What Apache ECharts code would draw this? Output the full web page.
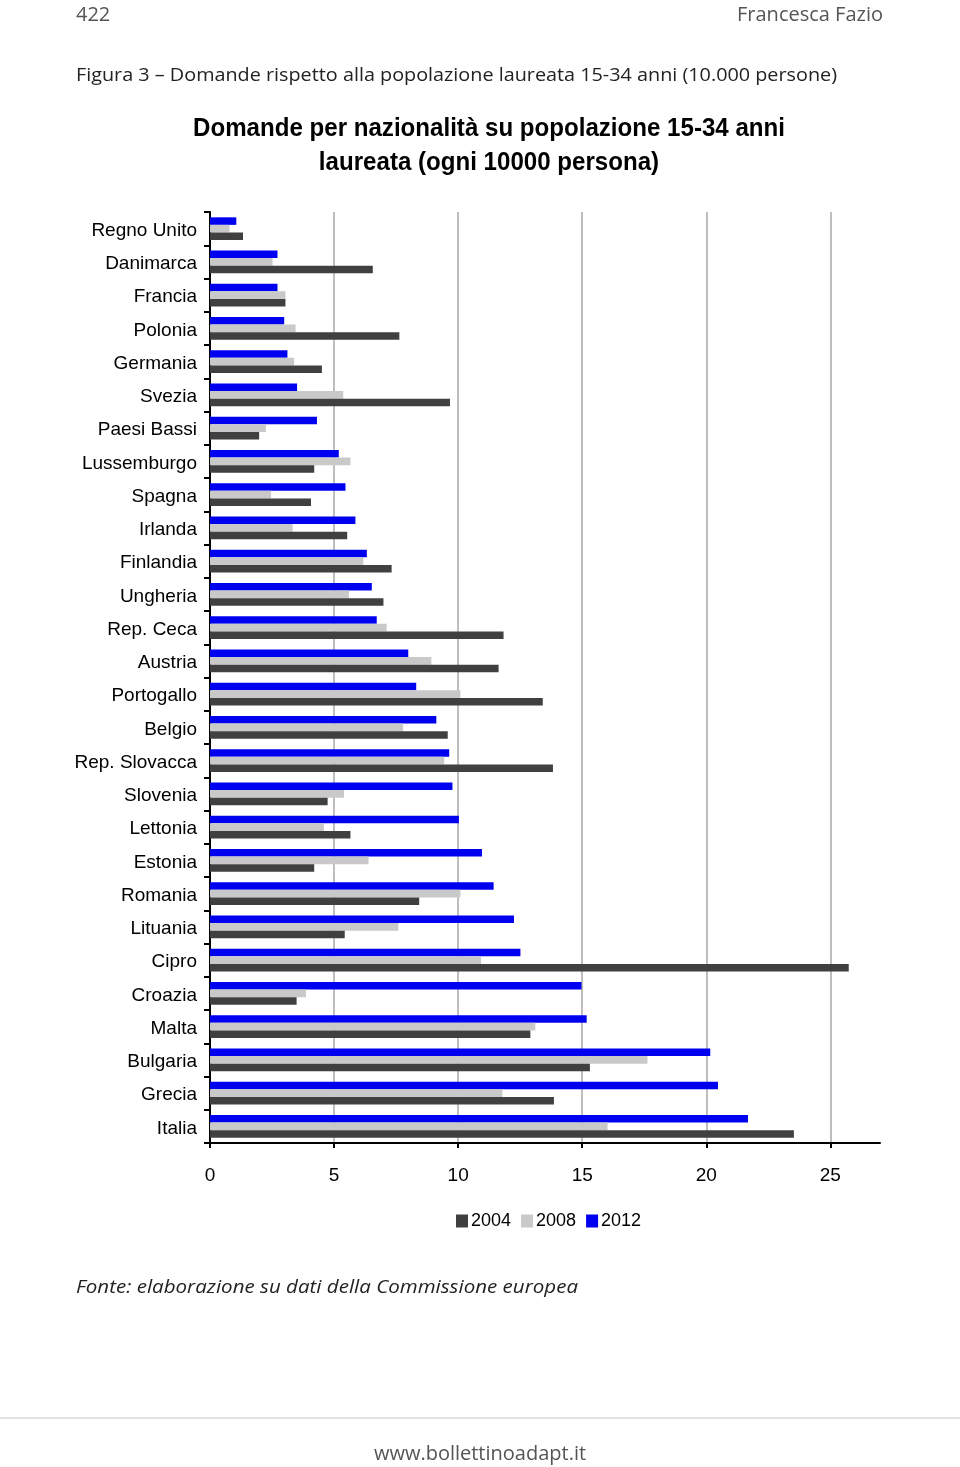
<!DOCTYPE html>
<html>
<head>
<meta charset="utf-8">
<script src="https://cdn.jsdelivr.net/npm/echarts@6/dist/echarts.min.js"></script>
<style>
html,body{margin:0;padding:0;background:#fff;}
#chart{position:absolute;left:0;top:0;width:960px;height:1467px;}
</style>
</head>
<body>
<div id="chart"></div>
<script>
const categories = ['Regno Unito','Danimarca','Francia','Polonia','Germania','Svezia','Paesi Bassi','Lussemburgo','Spagna','Irlanda','Finlandia','Ungheria','Rep. Ceca','Austria','Portogallo','Belgio','Rep. Slovacca','Slovenia','Lettonia','Estonia','Romania','Lituania','Cipro','Croazia','Malta','Bulgaria','Grecia','Italia'];
const values2004 = [1.33,6.56,3.04,7.63,4.51,9.67,1.98,4.20,4.07,5.53,7.32,6.99,11.83,11.63,13.41,9.58,13.82,4.74,5.66,4.20,8.43,5.43,25.74,3.49,12.91,15.31,13.86,23.53];
const values2008 = [0.79,2.52,3.04,3.45,3.39,5.37,2.25,5.66,2.46,3.33,6.18,5.60,7.12,8.92,10.09,7.78,9.44,5.40,4.59,6.39,10.09,7.59,10.92,3.87,13.11,17.63,11.78,16.02];
const values2012 = [1.06,2.72,2.72,2.99,3.12,3.51,4.31,5.19,5.46,5.86,6.32,6.52,6.72,7.99,8.31,9.12,9.64,9.77,10.03,10.96,11.43,12.25,12.51,14.97,15.18,20.16,20.47,21.68];
const xTicks = [0,5,10,15,20,25];

const SANS = '"Liberation Sans",Arial,sans-serif';
const BOOK = '"Open Sans","Lato",sans-serif';

// measure text so it can be fitted horizontally to the reference width
const mctx = document.createElement('canvas').getContext('2d');
function fitScale(text, font, target){ mctx.font = font; const w = mctx.measureText(text).width; return w > 0 ? target / w : 1; }

function fittedText(text, font, x, y, align, target, fill){
  const s = fitScale(text, font, target);
  return {type:'text', x:x, y:y, scaleX:s, scaleY:1,
    style:{text:text, font:font, fill:fill, align:align, verticalAlign:'middle'}};
}

const t1 = 'Domande per nazionalità su popolazione 15-34 anni';
const t2 = 'laureata (ogni 10000 persona)';
const titleFont = 'bold 26px ' + SANS;
const titleScale = fitScale(t1, titleFont, 592);

const chart = echarts.init(document.getElementById('chart'), null, {renderer:'canvas'});
chart.setOption({
  animation:false,
  backgroundColor:'#ffffff',
  grid:{left:210,right:80,top:212,bottom:324,containLabel:false},
  legend:{
    left:451, top:1207,
    data:['2004','2008','2012'],
    itemWidth:12,itemHeight:13,itemGap:10,
    icon:'rect',
    textStyle:{fontFamily:SANS,fontSize:18,color:'#000',padding:[0,0,0,-2]}
  },
  xAxis:{
    type:'value',min:0,max:27,interval:5,
    axisLine:{show:true,lineStyle:{color:'#000',width:2}},
    axisTick:{show:true,length:5,customValues:xTicks,lineStyle:{color:'#000',width:2}},
    axisLabel:{customValues:xTicks,fontFamily:SANS,fontSize:19,color:'#000',margin:23},
    splitLine:{show:true,lineStyle:{color:['#a8a8a8','#a8a8a8','#a8a8a8','#a8a8a8','#a8a8a8','#a8a8a8','rgba(0,0,0,0)'],width:1.5}}
  },
  yAxis:{
    type:'category',data:categories,inverse:true,
    axisLine:{show:true,lineStyle:{color:'#000',width:2}},
    axisTick:{show:true,length:6,interval:0,lineStyle:{color:'#000',width:2}},
    axisLabel:{interval:0,color:'#000',margin:13,
      formatter:function(v){return '{a|'+v+'}';},
      rich:{a:{fontFamily:SANS,fontSize:19,color:'#000',padding:[4,0,0,0]}}},
    splitLine:{show:false}
  },
  series:[
    {name:'2012',type:'bar',data:values2012,itemStyle:{color:'#0000f0'},barGap:'0%',barCategoryGap:'32%'},
    {name:'2008',type:'bar',data:values2008,itemStyle:{color:'#c9c9c9'},barGap:'0%',barCategoryGap:'32%'},
    {name:'2004',type:'bar',data:values2004,itemStyle:{color:'#404040'},barGap:'0%',barCategoryGap:'32%'}
  ],
  graphic:[
    {type:'text',x:76,y:15,style:{text:'422',font:'20px '+BOOK,fill:'#555',align:'left',verticalAlign:'middle'}},
    {type:'text',x:883,y:15,style:{text:'Francesca Fazio',font:'20px '+BOOK,fill:'#555',align:'right',verticalAlign:'middle'}},
    fittedText('Figura 3 – Domande rispetto alla popolazione laureata 15-34 anni (10.000 persone)','19px '+BOOK,76,76,'left',761,'#222'),
    {type:'text',x:489,y:129,scaleX:titleScale,scaleY:1,style:{text:t1,font:titleFont,fill:'#000',align:'center',verticalAlign:'middle'}},
    {type:'text',x:489,y:163,scaleX:titleScale,scaleY:1,style:{text:t2,font:titleFont,fill:'#000',align:'center',verticalAlign:'middle'}},
    fittedText('Fonte: elaborazione su dati della Commissione europea','italic 19px '+BOOK,76,1288,'left',502,'#222'),
    {type:'line',shape:{x1:0,y1:1418,x2:960,y2:1418},style:{stroke:'#c8c8c8',lineWidth:1}},
    {type:'text',x:480,y:1454,style:{text:'www.bollettinoadapt.it',font:'20px '+BOOK,fill:'#555',align:'center',verticalAlign:'middle'}}
  ]
});
</script>
</body>
</html>
